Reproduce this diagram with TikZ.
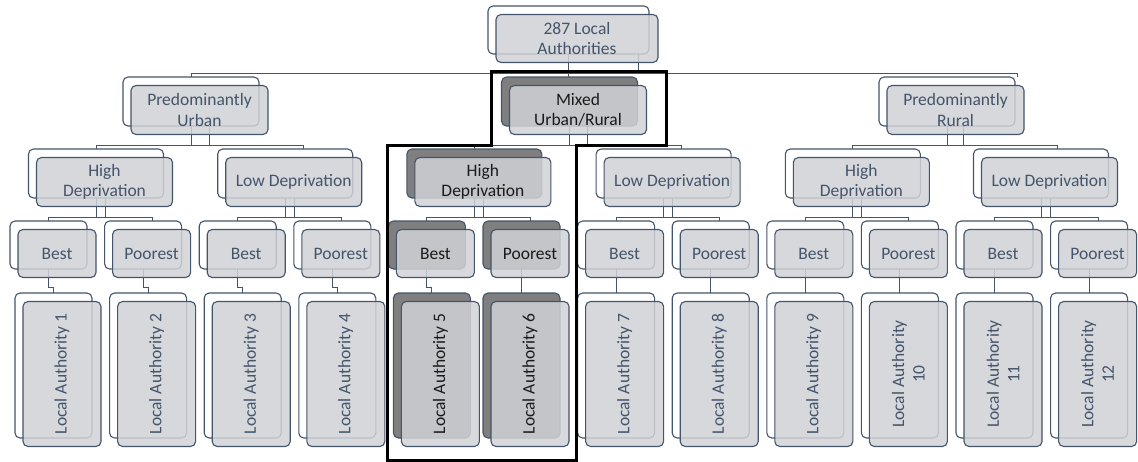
\documentclass[tikz,border=0pt]{standalone}
\usepackage{fontspec}
\setmainfont{Carlito}
\usetikzlibrary{calc}
\pgfdeclarelayer{bg}
\pgfsetlayers{bg,main}

\definecolor{slate}{HTML}{44546A}
\definecolor{boxgrey}{HTML}{D0D2D6}
\definecolor{shade}{HTML}{7F7F7F}
\definecolor{ink}{HTML}{1A1A1A}

\tikzset{
  back/.style={draw=slate, fill=white, line width=1.1pt, rounded corners=5pt,
    inner sep=0pt, outer sep=0pt},
  backhi/.style={back, fill=shade},
  front/.style={draw=slate, fill=boxgrey, fill opacity=0.85, draw opacity=1,
    line width=1.1pt, rounded corners=5pt, inner sep=0pt, outer sep=0pt},
  conn/.style={draw=slate, line width=0.9pt},
  lbl/.style={text=slate, font=\fontsize{17.5}{20.5}\selectfont, align=center,
    inner sep=0pt},
  lblhi/.style={lbl, text=ink},
  frame/.style={draw=black, line width=3pt, line join=miter},
}

% a box with its offset twin in front: name, cx, cy, width, height, back style
\newcommand\twinbox[6]{%
  \node[#6, minimum width=#4pt, minimum height=#5pt] (b-#1) at (#2,#3) {};
  \node[front, minimum width=#4pt+1pt, minimum height=#5pt] (f-#1) at ({#2+8.5},{#3+8.5}) {};
}

\begin{document}
\begin{tikzpicture}[x=1pt, y=-1pt]
\useasboundingbox (0,0) rectangle (1138,461);

% ---- root
\twinbox{top}{568.5}{30}{161}{48}{back}
\node[lbl] (t-top) at (f-top) {287 Local\\Authorities};

% ---- settlement type
\twinbox{pu}{191}{101.5}{136}{49}{back}
\twinbox{mx}{569.5}{101.5}{136}{49}{backhi}
\twinbox{ru}{947}{101.5}{136}{49}{back}
\node[lbl]   (t-pu) at (f-pu) {Predominantly\\Urban};
\node[lblhi] (t-mx) at (f-mx) {Mixed\\Urban/Rural};
\node[lbl]   (t-ru) at (f-ru) {Predominantly\\Rural};

% ---- deprivation
\twinbox{puhd}{96}{173.5}{135}{49}{back}
\twinbox{puld}{285.2}{173.5}{135}{49}{back}
\twinbox{mxhd}{474.4}{173.5}{135}{49}{backhi}
\twinbox{mxld}{663.6}{173.5}{135}{49}{back}
\twinbox{ruhd}{852.8}{173.5}{135}{49}{back}
\twinbox{ruld}{1041}{173.5}{135}{49}{back}
\node[lbl]   (t-puhd) at (f-puhd) {High\\Deprivation};
\node[lbl]   (t-puld) at (f-puld) {Low Deprivation};
\node[lblhi] (t-mxhd) at (f-mxhd) {High\\Deprivation};
\node[lbl]   (t-mxld) at (f-mxld) {Low Deprivation};
\node[lbl]   (t-ruhd) at (f-ruhd) {High\\Deprivation};
\node[lbl]   (t-ruld) at (f-ruld) {Low Deprivation};

% ---- best / poorest
\foreach \i/\st/\ls/\txt in {1/back/lbl/Best, 2/back/lbl/Poorest,
    3/back/lbl/Best, 4/back/lbl/Poorest, 5/backhi/lblhi/Best,
    6/backhi/lblhi/Poorest, 7/back/lbl/Best, 8/back/lbl/Poorest,
    9/back/lbl/Best, 10/back/lbl/Poorest, 11/back/lbl/Best,
    12/back/lbl/Poorest} {
  \pgfmathsetmacro\cx{48.5+94.6*(\i-1)}
  \twinbox{s\i}{\cx}{245}{77}{48}{\st}
  \node[\ls] (t-s\i) at (f-s\i) {\txt};
}

% ---- local authorities
\foreach \i/\st in {1/back, 2/back, 3/back, 4/back, 5/backhi, 6/backhi,
    7/back, 8/back, 9/back, 10/back, 11/back, 12/back} {
  \pgfmathsetmacro\lx{48.5+94.6*(\i-1)+(\i<6 ? 5 : 0)}
  \twinbox{la\i}{\lx}{365.5}{77}{145}{\st}
}
\foreach \i in {1,2,3,4,7,8,9}
  \node[lbl, rotate=90] (t-la\i) at (f-la\i) {Local Authority \i};
\foreach \i in {5,6}
  \node[lblhi, rotate=90] (t-la\i) at (f-la\i) {Local Authority \i};
\foreach \i in {10,11,12}
  \node[lbl, rotate=90] (t-la\i) at (f-la\i) {Local Authority\\\i};

% ---- connectors
\begin{pgfonlayer}{bg}
  \draw[conn] (b-top.south) -- (b-top.south |- b-mx.north);
  \draw[conn] ([xshift=70pt]b-top.south) -- ++(0,19);
  \draw[conn] (b-pu.north) -- ++(0,-4) -| ([xshift=70pt]b-ru.north);

  \foreach \p/\c/\d/\dx in {pu/puhd/puld/18, mx/mxhd/mxld/18, ru/ruhd/ruld/16} {
    \draw[conn] (b-\p.south) -- ++(0,19.5);
    \draw[conn] ([xshift=\dx pt]b-\p.south) -- ++(0,19.5);
    \draw[conn] (b-\c.north) -- ++(0,-3.5) -| ([xshift=\dx pt]b-\d.north);
  }

  \foreach \p/\c/\d in {puhd/s1/s2, puld/s3/s4, mxhd/s5/s6, mxld/s7/s8,
      ruhd/s9/s10, ruld/s11/s12} {
    \draw[conn] (b-\p.south) -- ++(0,19);
    \draw[conn] ([xshift=9pt]b-\p.south) -- ++(0,19);
    \draw[conn] (b-\c.north) -- ++(0,-4) -| ([xshift=9pt]b-\d.north);
  }

  \foreach \i in {1,...,5}
    \draw[conn] (b-s\i.south) -- ++(0,18) -| (b-la\i.north);
  \foreach \i in {6,...,12}
    \draw[conn] (b-s\i.south) -- (b-la\i.north);
\end{pgfonlayer}

% ---- outline of the mixed / high deprivation branch
\draw[frame] (491,71) -- (666,71) -- (666,145) -- (576,145) -- (576,460)
  -- (387,460) -- (387,145) -- (491,145) -- cycle;

\end{tikzpicture}
\end{document}
